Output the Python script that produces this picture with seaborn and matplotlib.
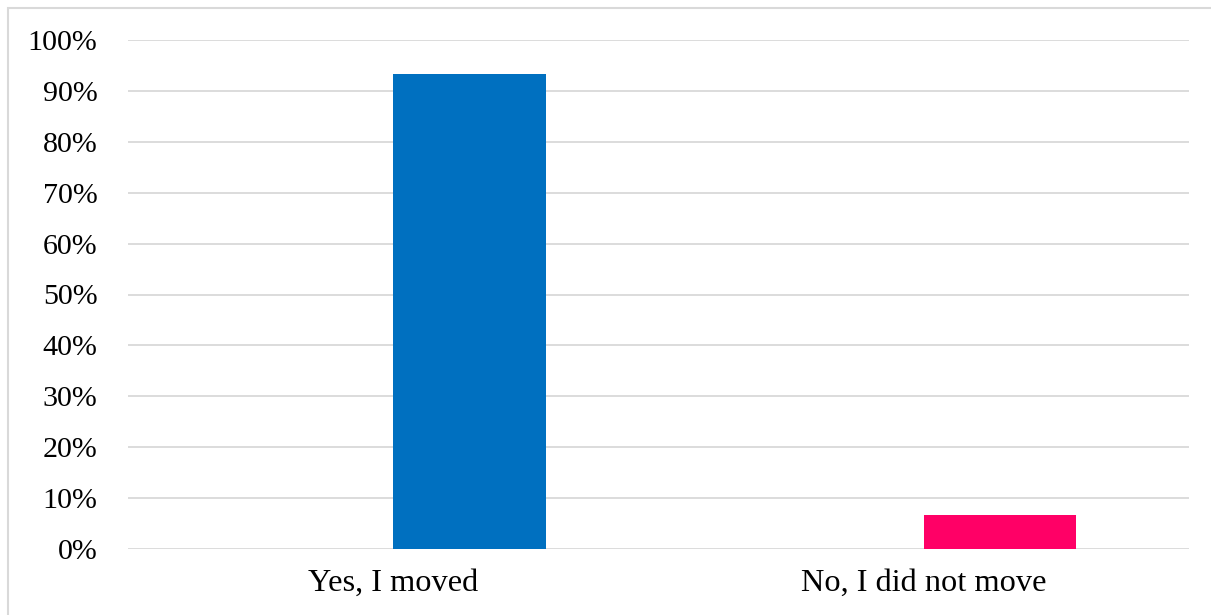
import matplotlib
matplotlib.use("Agg")
import matplotlib.pyplot as plt
from matplotlib.patches import Rectangle
import seaborn as sns
import pandas as pd
import numpy as np

categories = ["Yes, I moved", "No, I did not move"]
shares = [0.933, 0.067]
bar_colors = ["#0070C0", "#FF0066"]
y_ticks = [0.0, 0.1, 0.2, 0.3, 0.4, 0.5, 0.6, 0.7, 0.8, 0.9, 1.0]
y_labels = ["0%", "10%", "20%", "30%", "40%", "50%", "60%", "70%", "80%", "90%", "100%"]

# Two-series clustered layout: an empty leading series keeps the bars
# on the right half of each category slot.
df = pd.DataFrame({
    "answer": categories * 2,
    "series": ["blank"] * len(categories) + ["share"] * len(categories),
    "value": [np.nan] * len(categories) + shares,
})

sns.set_theme(style="white")
plt.rcParams["font.family"] = ["Liberation Serif", "DejaVu Serif"]

fig = plt.figure(figsize=(12.11, 6.15), dpi=100)
ax = fig.add_axes([128 / 1211, 1 - 549 / 615, (1189 - 128) / 1211, (549 - 40) / 615])

sns.barplot(data=df, x="answer", y="value", hue="series", order=categories,
            hue_order=["blank", "share"], dodge=True, width=0.574,
            palette=["#ffffff", "#0070C0"], legend=False, ax=ax, zorder=3)

for bar, color in zip(ax.containers[-1], bar_colors):
    bar.set_facecolor(color)
    bar.set_edgecolor("none")

ax.set_ylim(0, 1.0)
ax.set_xlim(-0.5, len(categories) - 0.5)
ax.set_yticks(y_ticks)
ax.set_yticklabels(y_labels)
ax.yaxis.grid(True, color="#d9d9d9", linewidth=1.3, zorder=0)
ax.set_axisbelow(True)
for side in ["top", "right", "left", "bottom"]:
    ax.spines[side].set_visible(False)
ax.tick_params(axis="y", length=0, pad=22, labelsize=21.6, labelcolor="#000000")
ax.tick_params(axis="x", length=0, pad=14, labelsize=23.3, labelcolor="#000000")
ax.set_xlabel("")
ax.set_ylabel("")

# Chart-area frame
fig.patches.append(Rectangle((8 / 1211, -0.2), 1.2, 1.2 - 8 / 615,
                             transform=fig.transFigure, fill=False,
                             edgecolor="#d9d9d9", linewidth=1.5, zorder=0))

fig.savefig("out.png", dpi=100, facecolor="white")
